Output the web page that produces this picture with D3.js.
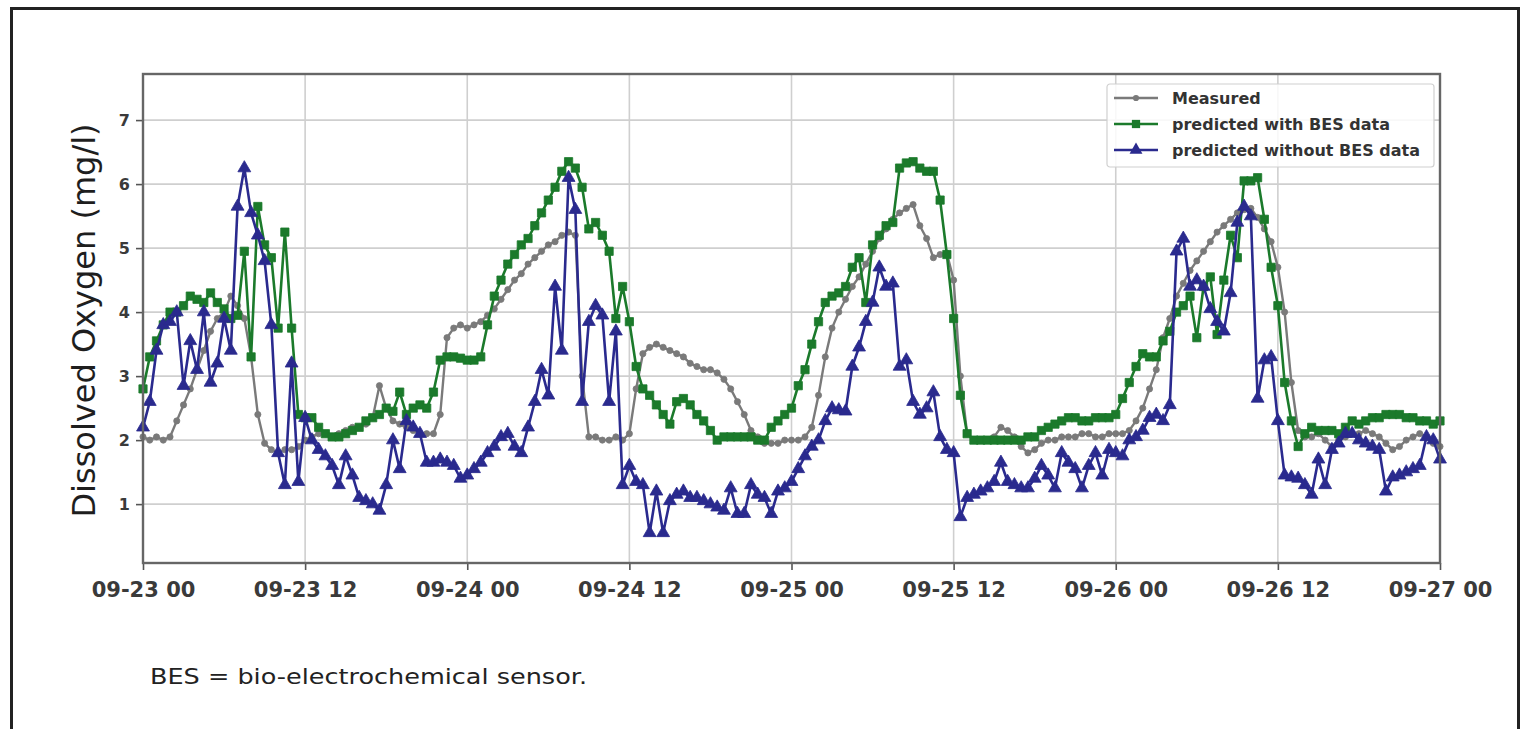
<!DOCTYPE html>
<html>
<head>
<meta charset="utf-8">
<script src="https://cdn.jsdelivr.net/npm/d3@7"></script>
<style>
  body { margin: 0; background: #fff; }
  text { font-family: "DejaVu Sans", sans-serif; }
</style>
</head>
<body>
<script>
// half-hourly readings, 09-23 00 .. 09-27 00
var measured = [
  2.05, 2.0, 2.05, 2.0, 2.05, 2.3, 2.55, 2.8, 3.1, 3.4, 3.7, 3.9,
  4.0, 4.25, 4.1, 3.9, 3.3, 2.4, 1.95, 1.85, 1.8, 1.85, 1.85, 1.9,
  2.0, 2.05, 2.1, 2.1, 2.05, 2.1, 2.15, 2.2, 2.2, 2.25, 2.35, 2.85,
  2.5, 2.3, 2.25, 2.2, 2.15, 2.1, 2.1, 2.1, 2.4, 3.6, 3.75, 3.8,
  3.75, 3.8, 3.85, 3.95, 4.05, 4.2, 4.35, 4.5, 4.6, 4.75, 4.85, 4.95,
  5.05, 5.1, 5.2, 5.25, 5.2, 3.0, 2.05, 2.05, 2.0, 2.0, 2.05, 2.0,
  2.1, 2.8, 3.35, 3.45, 3.5, 3.45, 3.4, 3.35, 3.3, 3.2, 3.15, 3.1,
  3.1, 3.05, 2.95, 2.8, 2.6, 2.4, 2.15, 2.05, 1.95, 1.95, 1.95, 2.0,
  2.0, 2.0, 2.05, 2.2, 2.7, 3.3, 3.75, 4.0, 4.2, 4.4, 4.55, 4.75,
  4.95, 5.15, 5.3, 5.45, 5.55, 5.62, 5.68, 5.35, 5.15, 4.85, 4.9, 4.92,
  4.5, 3.0, 2.1, 2.0, 2.0, 2.0, 2.05, 2.2, 2.15, 2.05, 1.9, 1.8,
  1.85, 1.95, 2.0, 2.0, 2.05, 2.05, 2.05, 2.1, 2.1, 2.05, 2.05, 2.1,
  2.1, 2.1, 2.15, 2.3, 2.5, 2.8, 3.1, 3.6, 3.9, 4.25, 4.45, 4.65,
  4.8, 4.95, 5.1, 5.25, 5.35, 5.45, 5.55, 5.6, 5.62, 5.48, 5.3, 5.1,
  4.7, 4.0, 2.9, 2.15, 2.05, 2.05, 2.1, 2.0, 1.9, 2.0, 2.05, 2.1,
  2.1, 2.15, 2.1, 2.05, 1.95, 1.85, 1.9, 2.0, 2.05, 2.1, 2.05, 1.95,
  1.9
];
var withBES = [
  2.8, 3.3, 3.55, 3.8, 4.0, 4.0, 4.1, 4.25, 4.2, 4.15, 4.3, 4.15,
  4.05, 3.9, 3.95, 4.95, 3.3, 5.65, 5.05, 4.85, 3.75, 5.25, 3.75, 2.4,
  2.35, 2.35, 2.2, 2.1, 2.05, 2.05, 2.1, 2.15, 2.2, 2.3, 2.35, 2.4,
  2.5, 2.45, 2.75, 2.4, 2.5, 2.55, 2.5, 2.75, 3.25, 3.3, 3.3, 3.28,
  3.25, 3.25, 3.3, 3.8, 4.25, 4.5, 4.75, 4.9, 5.05, 5.15, 5.35, 5.55,
  5.75, 5.95, 6.2, 6.35, 6.25, 5.95, 5.3, 5.4, 5.2, 4.95, 3.9, 4.4,
  3.85, 3.15, 2.8, 2.7, 2.55, 2.4, 2.25, 2.6, 2.65, 2.55, 2.4, 2.3,
  2.15, 2.0, 2.05, 2.05, 2.05, 2.05, 2.05, 2.0, 2.0, 2.2, 2.3, 2.4,
  2.5, 2.85, 3.1, 3.5, 3.85, 4.15, 4.25, 4.3, 4.4, 4.7, 4.85, 4.15,
  5.05, 5.2, 5.35, 5.4, 6.25, 6.33, 6.35, 6.25, 6.2, 6.2, 5.75, 4.9,
  3.9, 2.7, 2.1, 2.0, 2.0, 2.0, 2.0, 2.0, 2.0, 2.0, 2.0, 2.05,
  2.05, 2.15, 2.2, 2.25, 2.3, 2.35, 2.35, 2.3, 2.3, 2.35, 2.35, 2.35,
  2.4, 2.65, 2.9, 3.15, 3.35, 3.3, 3.3, 3.55, 3.7, 4.0, 4.1, 4.25,
  3.6, 4.4, 4.55, 3.65, 4.5, 5.2, 4.85, 6.05, 6.05, 6.1, 5.45, 4.7,
  4.1, 2.9, 2.3, 1.9, 2.1, 2.2, 2.15, 2.15, 2.15, 2.1, 2.2, 2.3,
  2.25, 2.3, 2.35, 2.35, 2.4, 2.4, 2.4, 2.35, 2.35, 2.3, 2.3, 2.25,
  2.3
];
var withoutBES = [
  2.2, 2.6, 3.4, 3.8, 3.85, 4.0, 2.85, 3.55, 3.1, 4.0, 2.9, 3.2,
  3.9, 3.4, 5.65, 6.25, 5.55, 5.2, 4.8, 3.8, 1.8, 1.3, 3.2, 1.35,
  2.35, 2.0, 1.85, 1.75, 1.6, 1.3, 1.75, 1.45, 1.1, 1.05, 1.0, 0.9,
  1.3, 2.0, 1.55, 2.3, 2.2, 2.1, 1.65, 1.65, 1.7, 1.65, 1.6, 1.4,
  1.45, 1.55, 1.65, 1.8, 1.9, 2.05, 2.1, 1.9, 1.8, 2.2, 2.6, 3.1,
  2.7, 4.4, 3.4, 6.1, 5.6, 2.6, 3.85, 4.1, 3.95, 2.6, 3.7, 1.3,
  1.6, 1.35, 1.3, 0.55, 1.2, 0.55, 1.05, 1.15, 1.2, 1.1, 1.1, 1.05,
  1.0, 0.95, 0.9, 1.25, 0.85, 0.85, 1.3, 1.15, 1.1, 0.85, 1.2, 1.25,
  1.35, 1.55, 1.75, 1.9, 2.0, 2.3, 2.5, 2.47, 2.45, 3.15, 3.45, 3.85,
  4.15, 4.7, 4.4, 4.45, 3.15, 3.25, 2.6, 2.4, 2.5, 2.75, 2.05, 1.85,
  1.8, 0.8, 1.1, 1.15, 1.2, 1.25, 1.35, 1.65, 1.35, 1.3, 1.25, 1.25,
  1.4, 1.6, 1.45, 1.25, 1.8, 1.65, 1.55, 1.25, 1.6, 1.8, 1.45, 1.85,
  1.8, 1.75, 2.0, 2.05, 2.15, 2.35, 2.4, 2.3, 2.55, 4.95, 5.15, 4.4,
  4.5, 4.4, 4.05, 3.85, 3.7, 4.3, 5.4, 5.65, 5.5, 2.65, 3.25, 3.3,
  2.3, 1.45, 1.42, 1.4, 1.3, 1.15, 1.7, 1.3, 1.85, 1.95, 2.1, 2.1,
  2.0, 1.95, 1.9, 1.85, 1.2, 1.42, 1.45, 1.5, 1.55, 1.6, 2.05, 2.0,
  1.7
];
var seriesNames = ["Measured", "predicted with BES data", "predicted without BES data"];
var yTicks = [1, 2, 3, 4, 5, 6, 7];
var startTime = new Date(2019, 8, 23, 0, 0);
var endTime = new Date(2019, 8, 27, 0, 0);

var colors = ["#7a7a7a", "#1b7a2b", "#2a2a8e"];
var symbols = [d3.symbolCircle, d3.symbolSquare, d3.symbolTriangle];
var symSizes = [30, 68, 72];

var W = 1530, H = 729;
var plot = { left: 143, right: 1440, top: 74, bottom: 563 };

var svg = d3.select("body").append("svg")
    .attr("width", W)
    .attr("height", H);

// outer frame of the figure panel
svg.append("rect")
    .attr("x", 11.5).attr("y", 8.5)
    .attr("width", 1507).attr("height", 760)
    .attr("fill", "none")
    .attr("stroke", "#222")
    .attr("stroke-width", 3);

var x = d3.scaleTime()
    .domain([startTime, endTime])
    .range([plot.left, plot.right]);
var y = d3.scaleLinear()
    .domain([0.08, 7.72])
    .range([plot.bottom, plot.top]);

var xTicks = d3.timeHour.every(12).range(startTime, d3.timeHour.offset(endTime, 1));

// grid
var grid = svg.append("g").attr("class", "grid");
grid.selectAll("line.gx")
    .data(xTicks)
    .enter().append("line")
    .attr("class", "gx")
    .attr("x1", d => x(d)).attr("x2", d => x(d))
    .attr("y1", plot.top).attr("y2", plot.bottom)
    .attr("stroke", "#cfcfcf").attr("stroke-width", 1.6);
grid.selectAll("line.gy")
    .data(yTicks)
    .enter().append("line")
    .attr("class", "gy")
    .attr("x1", plot.left).attr("x2", plot.right)
    .attr("y1", d => y(d)).attr("y2", d => y(d))
    .attr("stroke", "#cfcfcf").attr("stroke-width", 1.6);

// axes
var xAxis = svg.append("g")
    .attr("transform", "translate(0," + plot.bottom + ")")
    .call(d3.axisBottom(x).tickValues(xTicks).tickFormat(d3.timeFormat("%m-%d %H")).tickSizeOuter(0).tickSize(7).tickPadding(8));
var yAxis = svg.append("g")
    .attr("transform", "translate(" + plot.left + ",0)")
    .call(d3.axisLeft(y).tickValues(yTicks).tickFormat(d3.format("d")).tickSizeOuter(0).tickSize(7).tickPadding(6));

[xAxis, yAxis].forEach(function (g) {
    g.select(".domain").remove();
    g.selectAll(".tick line").attr("stroke", "#555").attr("stroke-width", 1.6);
    g.selectAll(".tick text")
        .attr("fill", "#3a3a3a")
        .style("font-family", "'DejaVu Sans', sans-serif")
        .style("font-weight", "bold");
});
xAxis.selectAll(".tick text").style("font-size", "21px").attr("dy", "0.9em");
yAxis.selectAll(".tick text").style("font-size", "16px");

// series
var lineGen = d3.line()
    .x((d, i) => x(d3.timeMinute.offset(startTime, i * 30)))
    .y(d => y(d));

var allSeries = [measured, withBES, withoutBES];
var chart = svg.append("g");
allSeries.forEach(function (vals, k) {
    var g = chart.append("g");
    g.append("path")
        .datum(vals)
        .attr("d", lineGen)
        .attr("fill", "none")
        .attr("stroke", colors[k])
        .attr("stroke-width", k === 0 ? 2.4 : 2.6)
        .attr("stroke-linejoin", "round");
    g.selectAll("path.mk")
        .data(vals)
        .enter().append("path")
        .attr("class", "mk")
        .attr("d", d3.symbol().type(symbols[k]).size(symSizes[k]))
        .attr("transform", (d, i) => "translate(" + x(d3.timeMinute.offset(startTime, i * 30)) + "," + y(d) + ")")
        .attr("fill", colors[k])
        .attr("stroke", colors[k])
        .attr("stroke-width", 0.8);
});

// frame of the axes
svg.append("rect")
    .attr("x", plot.left).attr("y", plot.top)
    .attr("width", plot.right - plot.left).attr("height", plot.bottom - plot.top)
    .attr("fill", "none")
    .attr("stroke", "#666")
    .attr("stroke-width", 2.4);

// y label
svg.append("text")
    .attr("transform", "translate(95," + ((plot.top + plot.bottom) / 2 + 2) + ") rotate(-90)")
    .attr("text-anchor", "middle")
    .attr("fill", "#1e1e1e")
    .style("font-size", "32px")
    .text("Dissolved Oxygen (mg/l)");

// legend
var leg = svg.append("g").attr("transform", "translate(1107,84)");
leg.append("rect")
    .attr("width", 327).attr("height", 83)
    .attr("rx", 3)
    .attr("fill", "#fff").attr("fill-opacity", 0.85)
    .attr("stroke", "#d0d0d0").attr("stroke-width", 1.2);
seriesNames.forEach(function (name, k) {
    var row = leg.append("g").attr("transform", "translate(0," + (14 + k * 26) + ")");
    row.append("line")
        .attr("x1", 7).attr("x2", 51)
        .attr("stroke", colors[k]).attr("stroke-width", 2.4);
    row.append("path")
        .attr("d", d3.symbol().type(symbols[k]).size(symSizes[k]))
        .attr("transform", "translate(29,0)")
        .attr("fill", colors[k]);
    row.append("text")
        .attr("x", 65).attr("dy", "0.35em")
        .attr("fill", "#333")
        .style("font-size", "16px")
        .style("font-weight", "bold")
        .text(name);
});

// caption
svg.append("text")
    .attr("x", 150).attr("y", 684)
    .attr("fill", "#222")
    .style("font-family", "'DejaVu Sans', sans-serif")
    .style("font-size", "22px")
    .attr("textLength", 437)
    .attr("lengthAdjust", "spacingAndGlyphs")
    .text("BES = bio-electrochemical sensor.");
</script>
</body>
</html>
